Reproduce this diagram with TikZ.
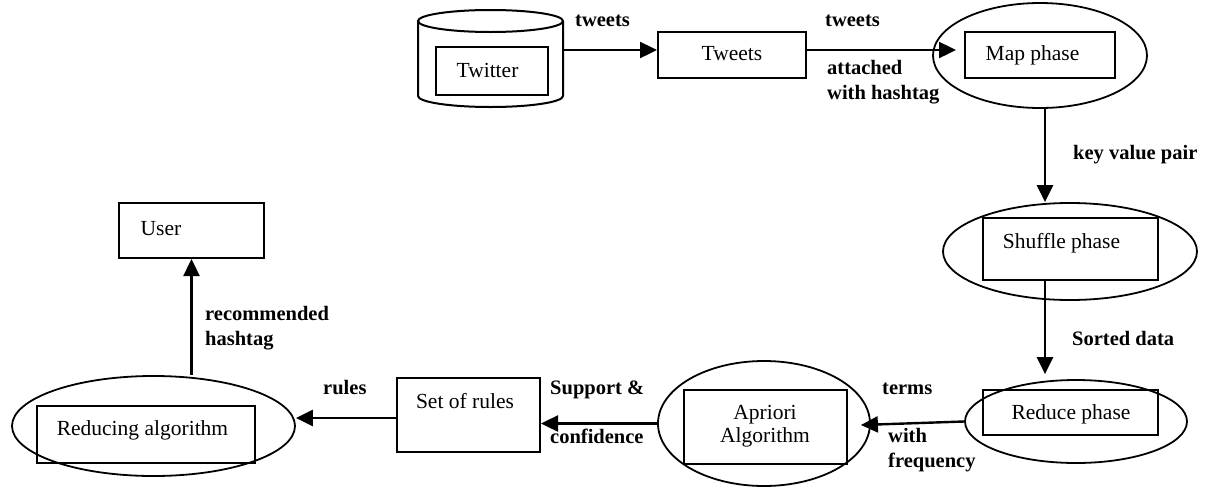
\documentclass[tikz,border=0pt]{standalone}
\usepackage{fontspec}
\setmainfont{Liberation Serif}
\usetikzlibrary{arrows.meta,shapes.geometric,calc}
\begin{document}
\begin{tikzpicture}[x=1pt,y=-1pt,
  every node/.style={font=\fontsize{21.5}{25}\selectfont},
  box/.style={draw, line width=2pt, rectangle, inner sep=0pt},
  ell/.style={draw, line width=1.8pt, ellipse, inner sep=0pt},
  txt/.style={inner sep=0pt, text height=14.5pt, text depth=4.5pt, font=\fontsize{21.5}{25}\selectfont},
  mtxt/.style={inner sep=0pt, align=center, font=\fontsize{21.5}{23}\selectfont},
  lbl/.style={inner sep=0pt, anchor=west, align=left, font=\fontsize{20.5}{25}\selectfont\bfseries},
  slbl/.style={lbl, text height=14pt, text depth=4.5pt},
  arr/.style={line width=2.4pt, -{Triangle[length=17pt,width=16pt]}},
]
\useasboundingbox (0,0) rectangle (1211,488);

% Twitter database (cylinder)
\draw[line width=2pt] (418,21) -- (418,96) arc[start angle=180, end angle=360, x radius=72.5pt, y radius=11pt] -- (563,21);
\draw[line width=2pt] (490.5,21) ellipse[x radius=72.5pt, y radius=11pt];
\coordinate (dbE) at (563,50);
\node[box, minimum width=112pt, minimum height=48pt] (twitterR) at (492,71) {};
\node[txt] (tTwitter) at (487.5,72) {Twitter};

% Tweets
\node[box, minimum width=148pt, minimum height=46pt] (tweetsR) at (732,55) {};
\node[txt] (tTweets) at (732,55) {Tweets};

% Map phase
\node[ell, minimum width=214pt, minimum height=105pt] (mapE) at (1040,55.5) {};
\node[box, minimum width=150pt, minimum height=46pt] (mapR) at (1040,55) {};
\node[txt] (tMap) at (1032.5,55) {Map phase};

% Shuffle phase
\node[ell, minimum width=254pt, minimum height=97pt] (shuffleE) at (1070,251.5) {};
\node[box, minimum width=175pt, minimum height=62pt] (shuffleR) at (1070.5,249) {};
\node[txt] (tShuffle) at (1061.5,243) {Shuffle phase};

% Reduce phase
\node[ell, minimum width=222pt, minimum height=83pt] (reduceE) at (1076,421.5) {};
\node[box, minimum width=175pt, minimum height=45pt] (reduceR) at (1070.5,412.5) {};
\node[txt] (tReduce) at (1071,414) {Reduce phase};

% Apriori
\node[ell, minimum width=212pt, minimum height=125pt] (aprioriE) at (764,423.5) {};
\node[box, minimum width=163pt, minimum height=74pt] (aprioriR) at (765.5,427) {};
\node[mtxt] (tApriori) at (765,426.5) {Apriori\\Algorithm};

% Set of rules
\node[box, minimum width=143pt, minimum height=74pt] (setR) at (468.5,415) {};
\node[txt] (tSet) at (465,403) {Set of rules};

% Reducing algorithm
\node[ell, minimum width=283pt, minimum height=100pt] (reducingE) at (153.5,426) {};
\node[box, minimum width=218pt, minimum height=57pt] (reducingR) at (146,434.5) {};
\node[txt] (tReducing) at (142.5,430) {Reducing algorithm};

% User
\node[box, minimum width=145pt, minimum height=55pt] (user) at (191.5,230.5) {};
\node[txt] (tUser) at (161,230) {User};

% Connectors
\coordinate (vx) at (1045,0);
\draw[arr] (dbE) -- (dbE -| tweetsR.west);
\coordinate (mapIn) at ($(dbE -| mapR.west)+(-8,0)$);
\draw[arr] (dbE -| tweetsR.east) -- (mapIn);
\draw[arr] (vx |- mapE.south) -- (vx |- shuffleE.north);
\coordinate (redIn) at ($(vx |- reduceE.north)+(0,-5)$);
\draw[arr] (vx |- shuffleR.south) -- (redIn);
\coordinate (aprIn) at ($(aprioriE.east)+(-10,1.5)$);
\draw[arr] (reduceE.west) -- (aprIn);
\draw[arr] (aprioriE.west) -- (aprioriE.west -| setR.east);
\coordinate (sr) at ($(setR.west)+(0,3)$);
\draw[arr] (sr) -- (sr -| reducingE.east);
\draw[arr] (user.south |- reducingE.north) -- (user.south);

% Labels
\node[slbl] (lTw1) at (575,22) {tweets};
\node[slbl] (lTw2) at (825,22) {tweets};
\node[lbl] (lAtt) at (827,82.5) {attached\\with hashtag};
\node[slbl] (lKey) at (1073,155) {key value pair};
\node[slbl] (lSort) at (1072,341) {Sorted data};
\node[slbl] (lTerms) at (882,390) {terms};
\node[lbl] (lFreq) at (888,450.5) {with\\frequency};
\node[slbl] (lSup) at (550,390) {Support \&};
\node[slbl] (lConf) at (550,439) {confidence};
\node[slbl] (lRules) at (323,390) {rules};
\node[lbl] (lRec) at (205,328.5) {recommended\\hashtag};
\end{tikzpicture}
\end{document}
